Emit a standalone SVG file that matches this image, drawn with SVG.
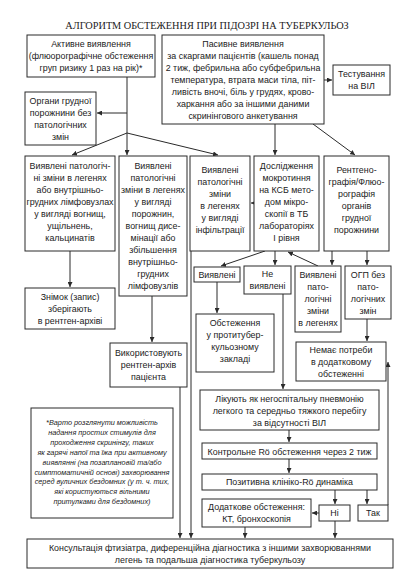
<svg xmlns="http://www.w3.org/2000/svg" width="417" height="586" viewBox="0 0 417 586">
<defs>
<style>
.b{fill:#fff;stroke:#2a2a2a;stroke-width:1}
.t{font-family:"Liberation Sans",Arial,sans-serif;font-size:8.9px;fill:#222;text-anchor:middle}
.f{font-family:"Liberation Sans",Arial,sans-serif;font-size:7.3px;font-style:italic;fill:#222;text-anchor:middle}
.h{font-family:"Liberation Serif","Times New Roman",serif;font-size:10.3px;fill:#222;text-anchor:middle}
.c path{fill:none;stroke:#2a2a2a;stroke-width:1;marker-end:url(#a)}
</style>
<marker id="a" markerUnits="userSpaceOnUse" markerWidth="6" markerHeight="5" refX="5" refY="2.5" orient="auto">
<path d="M0,0 L5,2.5 L0,5 z" fill="#2a2a2a"/>
</marker>
</defs>
<rect width="417" height="586" fill="#fff"/>
<text class="h" x="207" y="29">АЛГОРИТМ ОБСТЕЖЕННЯ ПРИ ПІДОЗРІ НА ТУБЕРКУЛЬОЗ</text>

<g id="connectors" class="c">
<path d="M127,77 V155"/>
<path d="M127,113 H97"/>
<path d="M127,133 L72,155"/>
<path d="M127,133 L218,155"/>
<path d="M324,80 H332"/>
<path d="M275,124 V155"/>
<path d="M313,124 L355,155"/>
<path d="M258,203 H251"/>
<path d="M70,251 V287"/>
<path d="M152,296 V342"/>
<path d="M180,387 V538"/>
<path d="M191,251 V538"/>
<path d="M265,251 L221,266"/>
<path d="M275,251 V265"/>
<path d="M318,266 L288,252"/>
<path d="M332,251 V265"/>
<path d="M367,251 V265"/>
<path d="M217,282 V313"/>
<path d="M367,319 V341"/>
<path d="M283,294 V389"/>
<path d="M289,430 V442"/>
<path d="M289,459 V473"/>
<path d="M335,490 V504"/>
<path d="M367,490 V504"/>
<path d="M319,513 H312"/>
<path d="M245,527 V538"/>
<path d="M335,521 V538"/>
<path d="M388,505 V362"/>
</g>

<g id="n1"><rect class="b" x="27" y="35" width="128" height="42"/>
<text class="t" x="91" y="47">Активне виявлення</text>
<text class="t" x="91" y="59">(флюорографічне обстеження</text>
<text class="t" x="91" y="71">груп ризику 1 раз на рік)*</text></g>

<g id="n2"><rect class="b" x="162" y="35" width="162" height="89"/>
<text class="t" x="243" y="46.5">Пасивне виявлення</text>
<text class="t" x="243" y="58.5">за скаргами пацієнтів (кашель понад</text>
<text class="t" x="243" y="70.5">2 тиж, фебрильна або субфебрильна</text>
<text class="t" x="243" y="82.5">температура, втрата маси тіла, піт-</text>
<text class="t" x="243" y="94.5">ливість вночі, біль у грудях, крово-</text>
<text class="t" x="243" y="106.5">харкання або за іншими даними</text>
<text class="t" x="243" y="118.5">скринінгового анкетування</text></g>

<g id="n3"><rect class="b" x="333" y="65" width="57" height="30"/>
<text class="t" x="361.5" y="77">Тестування</text>
<text class="t" x="361.5" y="89">на ВІЛ</text></g>

<g id="n4"><rect class="b" x="25" y="92" width="71" height="53"/>
<text class="t" x="60.5" y="103.5">Органи грудної</text>
<text class="t" x="60.5" y="115.5">порожнини без</text>
<text class="t" x="60.5" y="127.5">патологічних</text>
<text class="t" x="60.5" y="139.5">змін</text></g>

<g id="n5"><rect class="b" x="25" y="156" width="90" height="95"/>
<text class="t" x="70" y="169">Виявлені патологіч-</text>
<text class="t" x="70" y="181">ні зміни в легенях</text>
<text class="t" x="70" y="193">або внутрішньо-</text>
<text class="t" x="70" y="205">грудних лімфовузлах</text>
<text class="t" x="70" y="217">у вигляді вогнищ,</text>
<text class="t" x="70" y="229">ущільнень,</text>
<text class="t" x="70" y="241">кальцинатів</text></g>

<g id="n6"><rect class="b" x="119" y="156" width="68" height="140"/>
<text class="t" x="153" y="169">Виявлені</text>
<text class="t" x="153" y="181">патологічні</text>
<text class="t" x="153" y="193">зміни в легенях</text>
<text class="t" x="153" y="205">у вигляді</text>
<text class="t" x="153" y="217">порожнин,</text>
<text class="t" x="153" y="229">вогнищ дисе-</text>
<text class="t" x="153" y="241">мінації або</text>
<text class="t" x="153" y="253">збільшення</text>
<text class="t" x="153" y="265">внутрішньо-</text>
<text class="t" x="153" y="277">грудних</text>
<text class="t" x="153" y="289">лімфовузлів</text></g>

<g id="n7"><rect class="b" x="190" y="156" width="60" height="95"/>
<text class="t" x="220" y="173">Виявлені</text>
<text class="t" x="220" y="185">патологічні</text>
<text class="t" x="220" y="197">зміни</text>
<text class="t" x="220" y="209">в легенях</text>
<text class="t" x="220" y="221">у вигляді</text>
<text class="t" x="220" y="233">інфільтрації</text></g>

<g id="n8"><rect class="b" x="254" y="156" width="65" height="95"/>
<text class="t" x="286.5" y="169">Дослідження</text>
<text class="t" x="286.5" y="181">мокротиння</text>
<text class="t" x="286.5" y="193">на КСБ мето-</text>
<text class="t" x="286.5" y="205">дом мікро-</text>
<text class="t" x="286.5" y="217">скопії в ТБ</text>
<text class="t" x="286.5" y="229">лабораторіях</text>
<text class="t" x="286.5" y="241">І рівня</text></g>

<g id="n9"><rect class="b" x="324" y="156" width="65" height="95"/>
<text class="t" x="356.5" y="173">Рентгено-</text>
<text class="t" x="356.5" y="185">графія/Флюо-</text>
<text class="t" x="356.5" y="197">рографія</text>
<text class="t" x="356.5" y="209">органів</text>
<text class="t" x="356.5" y="221">грудної</text>
<text class="t" x="356.5" y="233">порожнини</text></g>

<g id="n10"><rect class="b" x="25" y="288" width="90" height="41"/>
<text class="t" x="70" y="300">Знімок (запис)</text>
<text class="t" x="70" y="312">зберігають</text>
<text class="t" x="70" y="324">в рентген-архіві</text></g>

<g id="n11"><rect class="b" x="110" y="343" width="77" height="44"/>
<text class="t" x="148.5" y="356">Використовують</text>
<text class="t" x="148.5" y="368">рентген-архів</text>
<text class="t" x="148.5" y="380">пацієнта</text></g>

<g id="n12"><rect class="b" x="194" y="267" width="46" height="15"/>
<text class="t" x="217" y="278">Виявлені</text></g>

<g id="n13"><rect class="b" x="244" y="266" width="47" height="28"/>
<text class="t" x="267.5" y="277">Не</text>
<text class="t" x="267.5" y="289">виявлені</text></g>

<g id="n14"><rect class="b" x="295" y="266" width="46" height="66"/>
<text class="t" x="318" y="278">Виявлені</text>
<text class="t" x="318" y="290">пато-</text>
<text class="t" x="318" y="302">логічні</text>
<text class="t" x="318" y="314">зміни</text>
<text class="t" x="318" y="326">в легенях</text></g>

<g id="n15"><rect class="b" x="345" y="266" width="46" height="53"/>
<text class="t" x="368" y="278">ОГП без</text>
<text class="t" x="368" y="290">пато-</text>
<text class="t" x="368" y="302">логічних</text>
<text class="t" x="368" y="314">змін</text></g>

<g id="n16"><rect class="b" x="196" y="314" width="78" height="58"/>
<text class="t" x="235" y="326">Обстеження</text>
<text class="t" x="235" y="338">у протитубер-</text>
<text class="t" x="235" y="350">кульозному</text>
<text class="t" x="235" y="362">закладі</text></g>

<g id="n17"><rect class="b" x="296" y="342" width="90" height="39"/>
<text class="t" x="341" y="353">Немає потреби</text>
<text class="t" x="341" y="365">в додатковому</text>
<text class="t" x="341" y="377">обстеженні</text></g>

<g id="n18"><rect class="b" x="200" y="390" width="179" height="40"/>
<text class="t" x="289.5" y="402">Лікують як негоспітальну пневмонію</text>
<text class="t" x="289.5" y="414">легкого та середньо тяжкого перебігу</text>
<text class="t" x="289.5" y="426">за відсутності ВІЛ</text></g>

<g id="n19"><rect class="b" x="202" y="443" width="175" height="16"/>
<text class="t" x="289.5" y="454.5">Контрольне Rö обстеження через 2 тиж</text></g>

<g id="n20"><rect class="b" x="202" y="474" width="175" height="16"/>
<text class="t" x="289.5" y="485">Позитивна клініко-Rö динаміка</text></g>

<g id="n21"><rect class="b" x="202" y="499" width="109" height="28"/>
<text class="t" x="256.5" y="510">Додаткове обстеження:</text>
<text class="t" x="256.5" y="522">КТ, бронхоскопія</text></g>

<g id="n22"><rect class="b" x="319" y="505" width="31" height="16"/>
<text class="t" x="334.5" y="516">Ні</text></g>

<g id="n23"><rect class="b" x="358" y="505" width="30" height="16"/>
<text class="t" x="373" y="516">Так</text></g>

<g id="n24"><rect class="b" x="27" y="539" width="366" height="29"/>
<text class="t" x="210" y="550.5">Консультація фтизіатра, диференційна діагностика з іншими захворюваннями</text>
<text class="t" x="210" y="563">легень та подальша діагностика туберкульозу</text></g>

<g id="n25"><rect class="b" x="31" y="408" width="142" height="110"/>
<text class="f" x="102" y="424.5">*Варто розглянути можливість</text>
<text class="f" x="102" y="434.5">надання простих стимулів для</text>
<text class="f" x="102" y="444.5">проходження скринінгу, таких</text>
<text class="f" x="102" y="454.5">як гарячі напої та їжа при активному</text>
<text class="f" x="102" y="464.5">виявлянні (на позаплановій та/або</text>
<text class="f" x="102" y="474.5">симптоматичній основі) захворювання</text>
<text class="f" x="102" y="484">серед вуличних бездомних (у т. ч. тих,</text>
<text class="f" x="102" y="494">які користуються вільними</text>
<text class="f" x="102" y="503.5">притулками для бездомних)</text></g>
</svg>
